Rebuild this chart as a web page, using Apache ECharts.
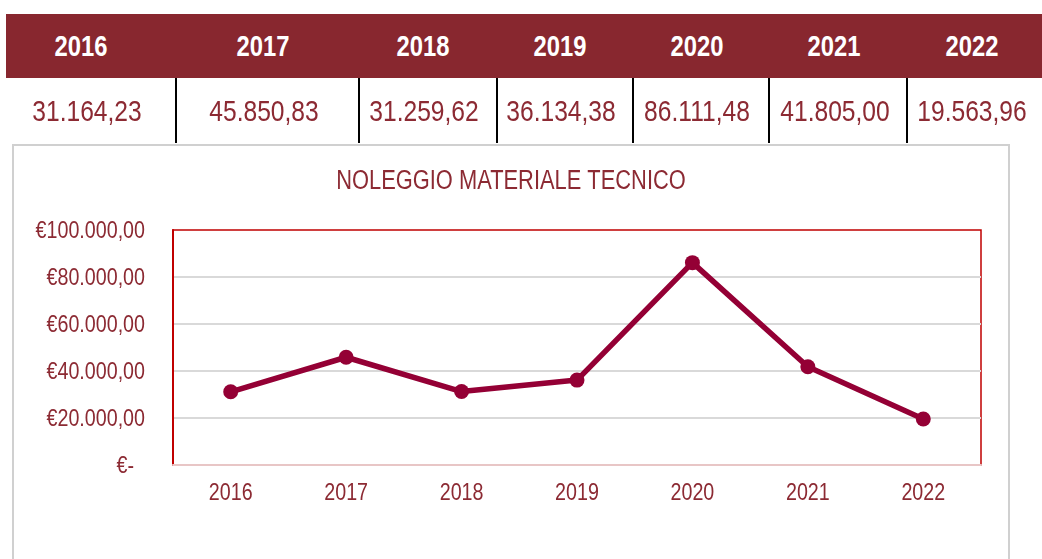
<!DOCTYPE html>
<html>
<head>
<meta charset="utf-8">
<script src="https://cdn.jsdelivr.net/npm/echarts@6/dist/echarts.min.js"></script>
<style>
  html, body { margin:0; padding:0; background:#fff; }
  body { width:1042px; height:559px; position:relative; overflow:hidden;
         font-family:'Liberation Sans',Arial,sans-serif; }
  #hdr { position:absolute; left:6px; top:14px; width:1036px; height:64px; background:#88272F; }
  .h { position:absolute; top:14px; height:64px; line-height:65px; color:#fff; font-weight:bold; font-size:29px;
       transform:translateX(-50%) scaleX(0.82); white-space:nowrap; }
  .d { position:absolute; top:78px; height:65px; line-height:66px; color:#8C2A33; font-size:30px;
       transform:translateX(-50%) scaleX(0.82); white-space:nowrap; }
  .sep { position:absolute; top:78px; height:65px; width:2px; background:#000; }
  #box { position:absolute; left:12px; top:144px; width:998px; height:430px; border:2px solid #D0D0D0; box-sizing:border-box; }
  #chart { position:absolute; left:0; top:0; width:1042px; height:559px; }
</style>
</head>
<body>
<div id="box"></div>
<div id="chart"></div>
<div id="hdr"></div>
<script>
// ---- data ----
const years = ['2016','2017','2018','2019','2020','2021','2022'];
const values = [31164.23, 45850.83, 31259.62, 36134.38, 86111.48, 41805.00, 19563.96];
const chartTitle = 'NOLEGGIO MATERIALE TECNICO';
const yTicks = [0, 20000, 40000, 60000, 80000, 100000];

// ---- layout (not data) ----
const hdrX = [81, 263, 423, 560, 697, 834, 972];
const valX = [87, 264, 424, 561, 697, 835, 972];
const sepX = [175, 358, 496, 632, 768, 906];
const NARROW = 0.82;

function fmtIt(v) {
  const parts = v.toFixed(2).split('.');
  return parts[0].replace(/\B(?=(\d{3})+(?!\d))/g, '.') + ',' + parts[1];
}
function yLabel(v) { return v === 0 ? '€-  ' : '€' + fmtIt(v); }

// table
years.forEach((y, i) => {
  const h = document.createElement('div');
  h.className = 'h'; h.style.left = hdrX[i] + 'px'; h.textContent = y;
  document.body.appendChild(h);
  const d = document.createElement('div');
  d.className = 'd'; d.style.left = valX[i] + 'px'; d.textContent = fmtIt(values[i]);
  document.body.appendChild(d);
});
sepX.forEach(x => {
  const s = document.createElement('div');
  s.className = 'sep'; s.style.left = x + 'px';
  document.body.appendChild(s);
});

const FONT = "'Liberation Sans',Arial,sans-serif";
const TXT = '#8C2A33';
const LINE = '#940035';
const chart = echarts.init(document.getElementById('chart'), null, { renderer: 'canvas' });
chart.setOption({
  animation: false,
  grid: {
    left: 173, top: 230, width: 808, height: 235,
    show: true, borderColor: '#C00000', borderWidth: 1.5, backgroundColor: 'transparent'
  },
  xAxis: {
    type: 'category', data: years, boundaryGap: true,
    axisLine: { show: true, lineStyle: { color: '#E8C6C6', width: 2 } },
    axisTick: { show: false },
    axisLabel: { show: false }
  },
  yAxis: {
    type: 'value', min: 0, max: 100000, interval: 20000,
    axisLine: { show: true, lineStyle: { color: '#C00000', width: 2 } },
    axisTick: { show: false },
    splitLine: { show: true, showMinLine: false, showMaxLine: false, lineStyle: { color: '#D9D9D9', width: 2 } },
    axisLabel: { show: false }
  },
  series: [{
    type: 'line', data: values,
    symbol: 'circle', symbolSize: 15,
    lineStyle: { color: LINE, width: 5.5 },
    itemStyle: { color: LINE }
  }]
});

// Narrow-looking labels: positions taken from the chart's own scales
const graphics = [];
graphics.push({
  type: 'text', x: 511, y: 182, scaleX: 0.81,
  style: { text: chartTitle, fill: TXT, font: '27px ' + FONT, align: 'center', verticalAlign: 'middle' }
});
yTicks.forEach(v => {
  const py = chart.convertToPixel({ yAxisIndex: 0 }, v);
  graphics.push({
    type: 'text', x: 145, y: py + 1, scaleX: NARROW,
    style: { text: yLabel(v), fill: TXT, font: '24px ' + FONT, align: 'right', verticalAlign: 'middle' }
  });
});
years.forEach(y => {
  const px = chart.convertToPixel({ xAxisIndex: 0 }, y);
  const py = chart.convertToPixel({ yAxisIndex: 0 }, 0);
  graphics.push({
    type: 'text', x: px, y: py + 28, scaleX: NARROW,
    style: { text: y, fill: TXT, font: '24px ' + FONT, align: 'center', verticalAlign: 'middle' }
  });
});
chart.setOption({ graphic: graphics });
</script>
</body>
</html>
